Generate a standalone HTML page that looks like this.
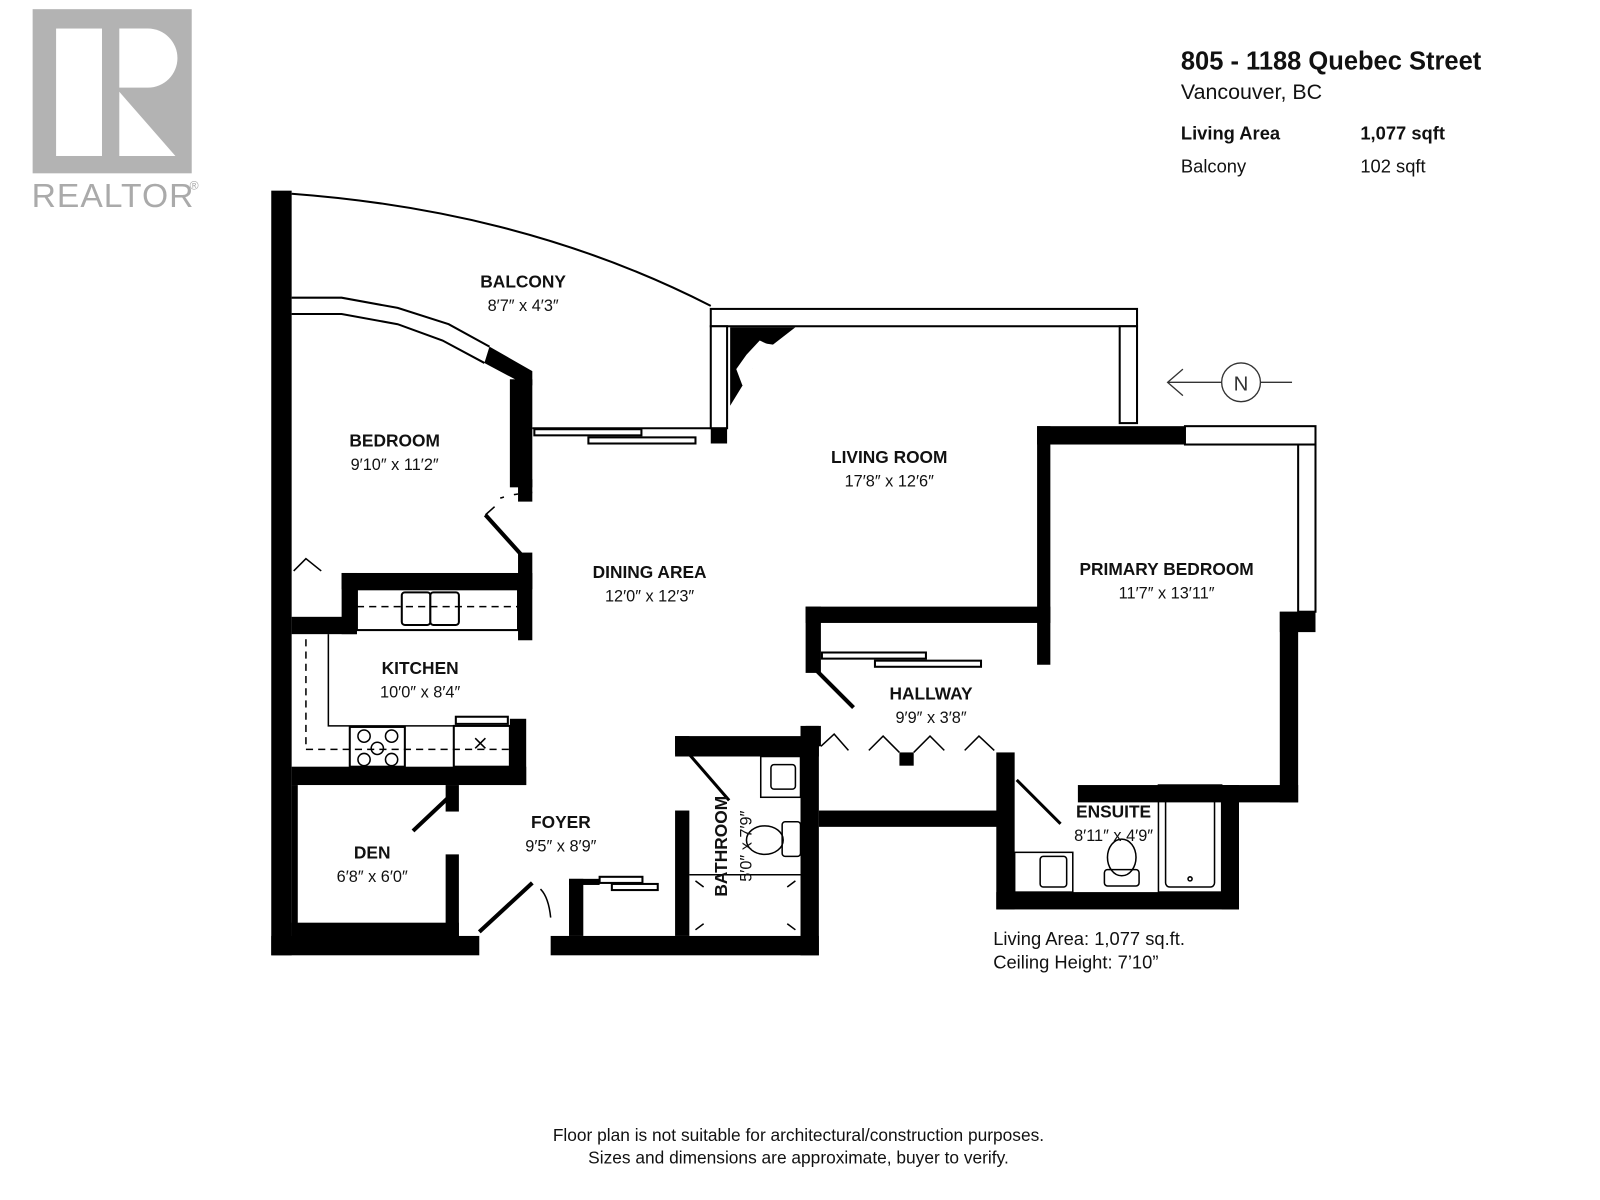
<!DOCTYPE html>
<html><head><meta charset="utf-8"><style>
html,body{margin:0;padding:0;background:#fff;}
svg{display:block}
.h{font-family:"Liberation Sans",sans-serif;font-weight:bold;font-size:17px;fill:#111}
.d{font-family:"Liberation Sans",sans-serif;font-size:16px;fill:#111}
.t{font-family:"Liberation Sans Narrow","Liberation Sans",sans-serif;fill:#111}
</style></head><body>
<svg width="1600" height="1200" viewBox="0 0 1569 1177" preserveAspectRatio="none" xmlns="http://www.w3.org/2000/svg">
<rect width="1569" height="1177" fill="#fff"/>
<rect x="32" y="9" width="156" height="161" fill="#b3b3b3"/>
<rect x="55" y="28" width="45" height="125" fill="#fff"/>
<path d="M117 28 H145 A29 29 0 0 1 145 86 H117 Z" fill="#fff"/>
<path d="M117 90 L172 153 H117 Z" fill="#fff"/>
<text x="31" y="203" font-family="Liberation Sans,sans-serif" font-size="33" fill="#aaa" letter-spacing="1">REALTOR</text>
<text x="186" y="186" font-family="Liberation Sans,sans-serif" font-size="12" fill="#aaa">®</text>
<text class="t" x="1158" y="68" font-size="25" font-weight="bold">805 - 1188 Quebec Street</text>
<text class="t" x="1158" y="97" font-size="21">Vancouver, BC</text>
<text class="t" x="1158" y="137" font-size="18" font-weight="bold">Living Area</text>
<text class="t" x="1334" y="137" font-size="18" font-weight="bold">1,077 sqft</text>
<text class="t" x="1158" y="169" font-size="18">Balcony</text>
<text class="t" x="1334" y="169" font-size="18">102 sqft</text>
<g stroke="#333" stroke-width="1.3" fill="none">
<circle cx="1217" cy="375" r="19"/>
<line x1="1145" y1="375" x2="1198" y2="375"/><line x1="1236" y1="375" x2="1267" y2="375"/>
<polyline points="1160,362 1145,375 1160,388"/>
</g>
<text x="1217" y="383" text-anchor="middle" font-family="Liberation Sans,sans-serif" font-size="20" fill="#333">N</text>
<path d="M286 190 C420 200 560 230 697 300" fill="none" stroke="#000" stroke-width="2"/>
<path d="M286 292 L335 292 L390 302 L440 318 L480 340" fill="none" stroke="#000" stroke-width="2"/>
<path d="M286 308 L335 308 L390 318 L434 334 L475 356" fill="none" stroke="#000" stroke-width="2"/>
<polygon points="480,340 522,364 522,378 505,378 505,372 475,356" fill="#000"/>
<g fill="#000">
<rect x="266" y="187" width="20" height="750"/>
<rect x="500" y="372" width="22" height="106"/>
<rect x="508" y="470" width="14" height="22"/>
<rect x="508" y="542" width="14" height="86"/>
<rect x="286" y="605" width="64" height="17"/>
<rect x="335" y="562" width="187" height="16"/>
<rect x="335" y="562" width="15" height="60"/>
<rect x="500" y="705" width="16" height="65"/>
<rect x="286" y="752" width="230" height="18"/>
<rect x="286" y="770" width="6" height="148"/>
<rect x="286" y="905" width="164" height="14"/>
<rect x="437" y="770" width="13" height="26"/>
<rect x="437" y="838" width="13" height="80"/>
<rect x="266" y="918" width="204" height="19"/>
<rect x="540" y="918" width="263" height="19"/>
<rect x="558" y="862" width="14" height="56"/>
<rect x="558" y="862" width="30" height="6"/>
<rect x="662" y="722" width="141" height="20"/>
<rect x="662" y="722" width="14" height="18"/>
<rect x="662" y="795" width="14" height="123"/>
<rect x="785" y="712" width="18" height="225"/>
<rect x="790" y="595" width="240" height="16"/>
<rect x="790" y="595" width="15" height="65"/>
<rect x="790" y="712" width="15" height="20"/>
<rect x="803" y="795" width="175" height="16"/>
<rect x="882" y="738" width="14" height="13"/>
<rect x="977" y="738" width="18" height="154"/>
<rect x="977" y="875" width="238" height="17"/>
<rect x="1198" y="770" width="17" height="122"/>
<rect x="1057" y="770" width="216" height="17"/>
<rect x="1255" y="600" width="18" height="187"/>
<rect x="1255" y="600" width="35" height="20"/>
<rect x="1017" y="418" width="145" height="18"/>
<rect x="1017" y="418" width="13" height="234"/>
<rect x="697" y="420" width="16" height="15"/>
</g>
<g fill="#fff" stroke="#000" stroke-width="2">
<rect x="697" y="303" width="418" height="17"/>
<rect x="1098" y="320" width="17" height="95"/>
<rect x="697" y="320" width="16" height="100"/>
<rect x="1162" y="418" width="128" height="18"/>
<rect x="1273" y="436" width="17" height="164"/>
<rect x="524" y="421" width="105" height="6"/>
<rect x="577" y="429" width="105" height="6"/>
<line x1="522" y1="420" x2="697" y2="420"/>
<rect x="806" y="640" width="102" height="6"/>
<rect x="858" y="648" width="104" height="6"/>
<rect x="588" y="860" width="42" height="6"/>
<rect x="600" y="867" width="45" height="6"/>
<rect x="350" y="578" width="158" height="40"/>
<rect x="394" y="581" width="28" height="32" rx="3"/>
<rect x="422" y="581" width="28" height="32" rx="3"/>
<rect x="447" y="703" width="51" height="7"/>
<rect x="445" y="712" width="55" height="40"/>
<rect x="343" y="713" width="54" height="39"/>
</g>
<polygon points="716,321 780,321 758,338 744,336 730,352 738,362 716,398" fill="#000"/>
<polygon points="732,348 745,334 758,340 752,346 742,344 736,356 740,368 728,378 722,362" fill="#fff"/>
<g fill="none" stroke="#000" stroke-width="1.5">
<path d="M322 622 V712 H445"/>
<line x1="350" y1="595" x2="508" y2="595" stroke-dasharray="7,5"/>
<line x1="300" y1="627" x2="300" y2="735" stroke-dasharray="7,5"/>
<line x1="300" y1="735" x2="500" y2="735" stroke-dasharray="7,5"/>
<path d="M466 724 L476 734 M476 724 L466 734"/>
<circle cx="357" cy="722" r="6"/><circle cx="384" cy="722" r="6"/><circle cx="357" cy="745" r="6"/><circle cx="384" cy="745" r="6"/><circle cx="370" cy="734" r="6"/>
<path d="M476 505 L512 545" stroke-width="4"/><path d="M476 505 L485 497"/>
<path d="M522 483 Q495 485 483 492" stroke-dasharray="4,10"/>
<path d="M288 560 L300 548 L315 560"/>
<path d="M405 815 L440 782" stroke-width="4"/>
<path d="M470 914 L522 866" stroke-width="4"/>
<path d="M540 900 Q538 880 530 872"/>
<path d="M800 657 L837 694" stroke-width="4"/>
<path d="M676 740 L715 785" stroke-width="3"/>
<path d="M997 765 L1040 808" stroke-width="3"/>
<path d="M805 732 L818 720 L832 736 M852 736 L866 722 L882 738 M896 738 L912 722 L926 736 M946 736 L960 722 L975 736"/>
<rect x="746" y="742" width="39" height="40"/>
<rect x="756" y="750" width="24" height="24" rx="3"/>
<rect x="767" y="806" width="18" height="34" rx="3"/>
<ellipse cx="750" cy="824" rx="18" ry="14"/>
<path d="M676 858 H785"/>
<path d="M682 864 L690 870 M780 864 L772 870 M682 912 L690 906 M780 912 L772 906"/>
<rect x="995" y="836" width="57" height="39"/>
<rect x="1020" y="840" width="26" height="30" rx="3"/>
<ellipse cx="1100" cy="841" rx="14" ry="18"/>
<rect x="1083" y="853" width="34" height="16" rx="3"/>
<rect x="1136" y="770" width="62" height="105"/>
<rect x="1143" y="778" width="48" height="92" rx="4"/>
<circle cx="1167" cy="862" r="2"/>
</g>
<text class="h" x="513" y="282" text-anchor="middle">BALCONY</text>
<text class="d" x="513" y="305" text-anchor="middle">8′7″ x 4′3″</text>
<text class="h" x="387" y="438" text-anchor="middle">BEDROOM</text>
<text class="d" x="387" y="461" text-anchor="middle">9′10″ x 11′2″</text>
<text class="h" x="872" y="454" text-anchor="middle">LIVING ROOM</text>
<text class="d" x="872" y="477" text-anchor="middle">17′8″ x 12′6″</text>
<text class="h" x="637" y="567" text-anchor="middle">DINING AREA</text>
<text class="d" x="637" y="590" text-anchor="middle">12′0″ x 12′3″</text>
<text class="h" x="1144" y="564" text-anchor="middle">PRIMARY BEDROOM</text>
<text class="d" x="1144" y="587" text-anchor="middle">11′7″ x 13′11″</text>
<text class="h" x="412" y="661" text-anchor="middle">KITCHEN</text>
<text class="d" x="412" y="684" text-anchor="middle">10′0″ x 8′4″</text>
<text class="h" x="913" y="686" text-anchor="middle">HALLWAY</text>
<text class="d" x="913" y="709" text-anchor="middle">9′9″ x 3′8″</text>
<text class="h" x="550" y="812" text-anchor="middle">FOYER</text>
<text class="d" x="550" y="835" text-anchor="middle">9′5″ x 8′9″</text>
<text class="h" x="365" y="842" text-anchor="middle">DEN</text>
<text class="d" x="365" y="865" text-anchor="middle">6′8″ x 6′0″</text>
<text class="h" x="1092" y="802" text-anchor="middle">ENSUITE</text>
<text class="d" x="1092" y="825" text-anchor="middle">8′11″ x 4′9″</text>
<text class="h" transform="translate(713,830) rotate(-90)" text-anchor="middle">BATHROOM</text>
<text class="d" transform="translate(737,830) rotate(-90)" text-anchor="middle">5′0″ x 7′9″</text>
<text class="t" x="974" y="927" font-size="18">Living Area: 1,077 sq.ft.</text>
<text class="t" x="974" y="950" font-size="18">Ceiling Height: 7’10”</text>
<text class="t" x="783" y="1119" font-size="17" text-anchor="middle" fill="#333">Floor plan is not suitable for architectural/construction purposes.</text>
<text class="t" x="783" y="1141" font-size="17" text-anchor="middle" fill="#333">Sizes and dimensions are approximate, buyer to verify.</text>
</svg>
</body></html>
